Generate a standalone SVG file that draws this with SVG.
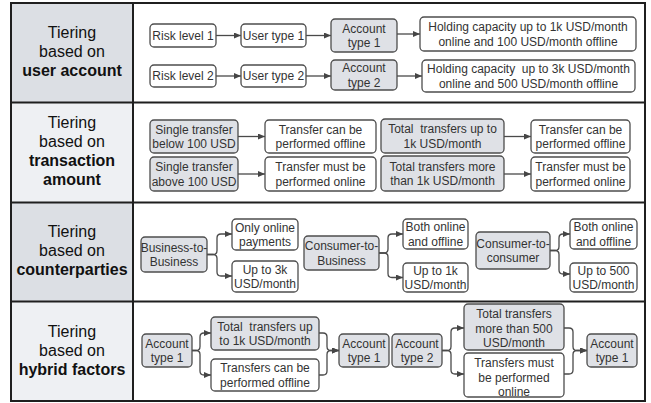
<svg xmlns="http://www.w3.org/2000/svg" width="651" height="403" viewBox="0 0 651 403">
<defs>
<marker id="ah" markerUnits="userSpaceOnUse" markerWidth="8" markerHeight="7" refX="7" refY="3" orient="auto">
<path d="M0,0 L7,3 L0,6 z" fill="#454545"/>
</marker>
<style>
.bg{fill:#ffffff}
.cd{fill:#dcdfe4}
.cl{fill:#eef0f3}
.grid{fill:none;stroke:#1f1f1f;stroke-width:2}
.lbl{font-family:"Liberation Sans",Arial,sans-serif;font-size:16px;fill:#111;text-anchor:middle}
.lbl .b{font-weight:bold}
.w rect{fill:#ffffff;stroke:#4d4d4d;stroke-width:1.3}
.g rect{fill:#dfe1e6;stroke:#4d4d4d;stroke-width:1.3}
.w text,.g text{font-family:"Liberation Sans",Arial,sans-serif;font-size:12px;fill:#333;text-anchor:middle;white-space:pre}
.cn path{fill:none;stroke:#4a4a4a;stroke-width:1.3;marker-end:url(#ah)}
</style>
</defs>
<rect class="bg" x="0" y="0" width="651" height="403"/>
<g id="table">
<rect class="cd" x="11" y="3" width="122" height="99.5"/>
<rect class="cl" x="11" y="102.5" width="122" height="100"/>
<rect class="cd" x="11" y="202.5" width="122" height="99"/>
<rect class="cl" x="11" y="301.5" width="122" height="99.5"/>
<rect class="grid" x="11" y="3" width="634" height="398"/>
<line class="grid" x1="133" y1="3" x2="133" y2="401"/>
<line class="grid" x1="11" y1="102.5" x2="645" y2="102.5"/>
<line class="grid" x1="11" y1="202.5" x2="645" y2="202.5"/>
<line class="grid" x1="11" y1="301.5" x2="645" y2="301.5"/>
</g>
<g id="labels">
<text class="lbl" x="72" y="38">Tiering<tspan x="72" y="57">based on</tspan><tspan class="b" x="72" y="76">user account</tspan></text>
<text class="lbl" x="72" y="128">Tiering<tspan x="72" y="147">based on</tspan><tspan class="b" x="72" y="166">transaction</tspan><tspan class="b" x="72" y="185">amount</tspan></text>
<text class="lbl" x="72" y="237">Tiering<tspan x="72" y="256">based on</tspan><tspan class="b" x="72" y="275">counterparties</tspan></text>
<text class="lbl" x="72" y="337">Tiering<tspan x="72" y="356">based on</tspan><tspan class="b" x="72" y="375">hybrid factors</tspan></text>
</g>
<g id="connectors" class="cn">
<path d="M216,35.5 H241"/>
<path d="M306,35.5 H331"/>
<path d="M397,34 H420"/>
<path d="M216,76 H241"/>
<path d="M306,76 H331"/>
<path d="M397,76 H422"/>
<path d="M238,136.5 H265"/>
<path d="M238,174 H265"/>
<path d="M504,136.5 H531"/>
<path d="M504,174 H531"/>
<path d="M207,254.5 H213 Q217,254.5 217,250.5 V238 Q217,234 221,234 H232"/>
<path d="M207,254.5 H213 Q217,254.5 217,258.5 V272 Q217,276 221,276 H232"/>
<path d="M379,253 H384 Q388,253 388,249 V238 Q388,234 392,234 H403"/>
<path d="M379,253 H384 Q388,253 388,257 V273.5 Q388,277.5 392,277.5 H403"/>
<path d="M550,250.5 H555 Q559,250.5 559,246.5 V238 Q559,234 563,234 H570"/>
<path d="M550,250.5 H555 Q559,250.5 559,254.5 V270 Q559,274 563,274 H570"/>
<path d="M192,350.5 H196 Q200,350.5 200,346.5 V337 Q200,333 204,333 H211"/>
<path d="M192,350.5 H196 Q200,350.5 200,354.5 V371 Q200,375 204,375 H211"/>
<path d="M319,333 H323 Q327,333 327,337 V346.5 Q327,350.5 331,350.5 H339"/>
<path d="M319,375 H323 Q327,375 327,371 V354.5 Q327,350.5 331,350.5 H339"/>
<path d="M442,350.5 H447 Q451,350.5 451,346.5 V332 Q451,328 455,328 H464"/>
<path d="M442,350.5 H447 Q451,350.5 451,354.5 V370 Q451,374 455,374 H464"/>
<path d="M564,328 H569 Q573,328 573,332 V346.5 Q573,350.5 577,350.5 H587"/>
<path d="M564,374 H569 Q573,374 573,370 V354.5 Q573,350.5 577,350.5 H587"/>
</g>
<g id="n1" class="w"><rect x="150" y="24" width="66" height="23" rx="4"/><text x="183" y="39.8">Risk level 1</text></g>
<g id="n2" class="w"><rect x="241" y="24" width="65" height="23" rx="4"/><text x="273.5" y="39.8">User type 1</text></g>
<g id="n3" class="g"><rect x="331" y="19" width="66" height="33" rx="4"/><text x="364" y="32.5">Account<tspan x="364" y="47">type 1</tspan></text></g>
<g id="n4" class="w"><rect x="420" y="17" width="216" height="34" rx="4"/><text x="528" y="31">Holding capacity up to 1k USD/month<tspan x="528" y="45.5">online and 100 USD/month offline</tspan></text></g>
<g id="n5" class="w"><rect x="150" y="65" width="66" height="22" rx="4"/><text x="183" y="80.3">Risk level 2</text></g>
<g id="n6" class="w"><rect x="241" y="65" width="65" height="22" rx="4"/><text x="273.5" y="80.3">User type 2</text></g>
<g id="n7" class="g"><rect x="331" y="60" width="66" height="30" rx="4"/><text x="364" y="72">Account<tspan x="364" y="86.5">type 2</tspan></text></g>
<g id="n8" class="w"><rect x="422" y="60" width="213" height="32" rx="4"/><text x="528.5" y="73">Holding capacity  up to 3k USD/month<tspan x="528.5" y="87.5">online and 500 USD/month offline</tspan></text></g>
<g id="n9" class="g"><rect x="150" y="120" width="88" height="33" rx="4"/><text x="194" y="133.5">Single transfer<tspan x="194" y="148">below 100 USD</tspan></text></g>
<g id="n10" class="w"><rect x="265" y="120" width="111" height="33" rx="4"/><text x="320.5" y="133.5">Transfer can be<tspan x="320.5" y="148">performed offline</tspan></text></g>
<g id="n11" class="g"><rect x="150" y="157" width="88" height="34" rx="4"/><text x="194" y="171">Single transfer<tspan x="194" y="185.5">above 100 USD</tspan></text></g>
<g id="n12" class="w"><rect x="265" y="157" width="111" height="34" rx="4"/><text x="320.5" y="171">Transfer must be<tspan x="320.5" y="185.5">performed online</tspan></text></g>
<g id="n13" class="g"><rect x="381" y="119" width="123" height="34" rx="4"/><text x="442.5" y="133">Total  transfers up to<tspan x="442.5" y="147.5">1k USD/month</tspan></text></g>
<g id="n14" class="w"><rect x="531" y="120" width="99" height="33" rx="4"/><text x="580.5" y="133.5">Transfer can be<tspan x="580.5" y="148">performed offline</tspan></text></g>
<g id="n15" class="g"><rect x="381" y="156" width="123" height="35" rx="4"/><text x="442.5" y="170.5">Total transfers more<tspan x="442.5" y="185">than 1k USD/month</tspan></text></g>
<g id="n16" class="w"><rect x="531" y="157" width="99" height="34" rx="4"/><text x="580.5" y="171">Transfer must be<tspan x="580.5" y="185.5">performed online</tspan></text></g>
<g id="n17" class="g"><rect x="141" y="237" width="66" height="35" rx="4"/><text x="174" y="251.5">Business-to-<tspan x="174" y="266">Business</tspan></text></g>
<g id="n18" class="w"><rect x="232" y="219" width="66" height="31" rx="4"/><text x="265" y="231.5">Only online<tspan x="265" y="246">payments</tspan></text></g>
<g id="n19" class="w"><rect x="232" y="261" width="66" height="31" rx="4"/><text x="265" y="273.5">Up to 3k<tspan x="265" y="288">USD/month</tspan></text></g>
<g id="n20" class="g"><rect x="304" y="236" width="75" height="34" rx="4"/><text x="341.5" y="250">Consumer-to-<tspan x="341.5" y="264.5">Business</tspan></text></g>
<g id="n21" class="w"><rect x="403" y="219" width="65" height="30" rx="4"/><text x="435.5" y="231">Both online<tspan x="435.5" y="245.5">and offline</tspan></text></g>
<g id="n22" class="w"><rect x="403" y="263" width="65" height="29" rx="4"/><text x="435.5" y="274.5">Up to 1k<tspan x="435.5" y="289">USD/month</tspan></text></g>
<g id="n23" class="g"><rect x="476" y="232" width="74" height="37" rx="4"/><text x="513" y="247.5">Consumer-to-<tspan x="513" y="262">consumer</tspan></text></g>
<g id="n24" class="w"><rect x="570" y="219" width="67" height="30" rx="4"/><text x="603.5" y="231">Both online<tspan x="603.5" y="245.5">and offline</tspan></text></g>
<g id="n25" class="w"><rect x="570" y="263" width="67" height="29" rx="4"/><text x="603.5" y="274.5">Up to 500<tspan x="603.5" y="289">USD/month</tspan></text></g>
<g id="n26" class="g"><rect x="142" y="334" width="50" height="33" rx="4"/><text x="167" y="347.5">Account<tspan x="167" y="362">type 1</tspan></text></g>
<g id="n27" class="g"><rect x="211" y="317" width="108" height="33" rx="4"/><text x="265" y="330.5">Total  transfers up<tspan x="265" y="345">to 1k USD/month</tspan></text></g>
<g id="n28" class="w"><rect x="211" y="359" width="108" height="32" rx="4"/><text x="265" y="372">Transfers can be<tspan x="265" y="386.5">performed offline</tspan></text></g>
<g id="n29" class="g"><rect x="339" y="334" width="50" height="33" rx="4"/><text x="364" y="347.5">Account<tspan x="364" y="362">type 1</tspan></text></g>
<g id="n30" class="g"><rect x="392" y="334" width="50" height="33" rx="4"/><text x="417" y="347.5">Account<tspan x="417" y="362">type 2</tspan></text></g>
<g id="n31" class="g"><rect x="464" y="304" width="100" height="46" rx="4"/><text x="514" y="318">Total transfers<tspan x="514" y="332.5">more than 500</tspan><tspan x="514" y="347">USD/month</tspan></text></g>
<g id="n32" class="w"><rect x="464" y="353" width="100" height="44" rx="4"/><text x="514" y="367">Transfers must<tspan x="514" y="381.5">be performed</tspan><tspan x="514" y="396">online</tspan></text></g>
<g id="n33" class="g"><rect x="587" y="334" width="50" height="33" rx="4"/><text x="612" y="347.5">Account<tspan x="612" y="362">type 1</tspan></text></g>
</svg>
